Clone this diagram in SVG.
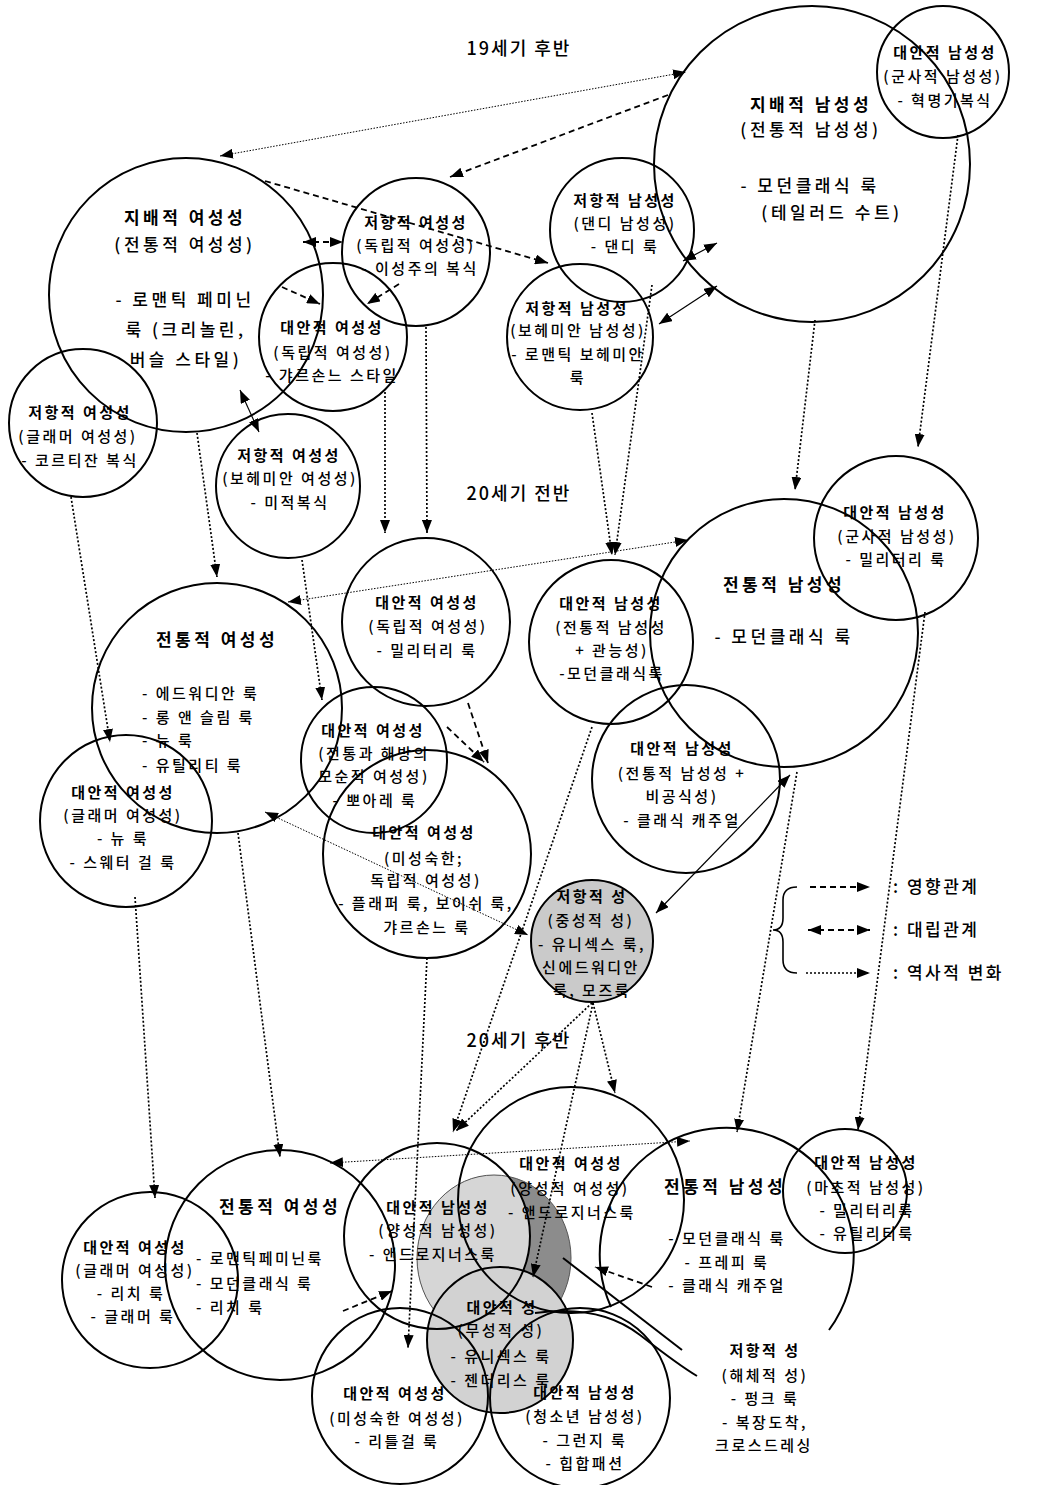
<svg xmlns="http://www.w3.org/2000/svg" width="1038" height="1485" viewBox="0 0 1038 1485">
<style>
.c{fill:none;stroke:#000;stroke-width:2}
.t{font-family:"Noto Sans CJK KR","Noto Sans",sans-serif;font-size:15px;font-weight:500;letter-spacing:2.5px;text-anchor:middle;fill:#000}
.s{text-anchor:start}
.b{font-weight:bold}
.big{font-size:17px;letter-spacing:3.5px}
.era{font-family:"Noto Sans CJK KR","Noto Sans",sans-serif;font-size:18px;font-weight:500;letter-spacing:2px;text-anchor:middle;fill:#000}
.lg{font-family:"Noto Sans CJK KR","Noto Sans",sans-serif;font-size:17px;font-weight:500;letter-spacing:2.5px;fill:#000}
#conn path,#conn line{fill:none;stroke:#000}
.dot{stroke-dasharray:2 2;stroke-width:1.7}
.dash{stroke-dasharray:6 4;stroke-width:1.8}
.fine{stroke-dasharray:1.5 1.5;stroke-width:1}
.thin{stroke-width:1.2}
.me{marker-end:url(#a)}
.ms{marker-start:url(#a)}
</style>
<defs>
<marker id="a" viewBox="0 0 13 10" refX="13" refY="5" markerWidth="13" markerHeight="10" markerUnits="userSpaceOnUse" orient="auto-start-reverse"><path d="M0,0 L13,5 L0,10 z" fill="#000"/></marker>
<clipPath id="clipV"><circle cx="437" cy="1236" r="93"/></clipPath>
</defs>
<rect width="1038" height="1485" fill="#fff"/>

<!-- gray fills -->
<g id="fills">
<ellipse cx="494" cy="1258" rx="77" ry="83" fill="#8c8c8c"/>
<ellipse cx="494" cy="1258" rx="77" ry="83" fill="#d6d6d6" clip-path="url(#clipV)"/>
<ellipse cx="494" cy="1258" rx="77" ry="83" fill="none" stroke="#555" stroke-width="1"/>
<circle cx="500" cy="1340" r="73" fill="#d2d2d2"/>
<circle cx="592" cy="941" r="61" fill="#cacaca"/>
</g>

<text class="era" x="519" y="55">19세기 후반</text>
<text class="era" x="519" y="500">20세기 전반</text>
<text class="era" x="519" y="1047">20세기 후반</text>

<!-- Top section -->
<g id="n-dom-fem">
<circle class="c" cx="186" cy="295" r="137"/>
<text class="t b big" x="185" y="224">지배적 여성성</text>
<text class="t big" x="185" y="251">(전통적 여성성)</text>
<text class="t big" x="185" y="306">- 로맨틱 페미닌</text>
<text class="t big" x="186" y="336">룩 (크리놀린,</text>
<text class="t big" x="186" y="366">버슬 스타일)</text>
</g>
<g id="n-res-fem-ind">
<circle class="c" cx="416" cy="252" r="74"/>
<text class="t b" x="416" y="228">저항적 여성성</text>
<text class="t" x="416" y="251">(독립적 여성성)</text>
<text class="t" x="420" y="274">- 이성주의 복식</text>
</g>
<g id="n-alt-fem-ind">
<circle class="c" cx="333" cy="337" r="74"/>
<text class="t b" x="332" y="333">대안적 여성성</text>
<text class="t" x="333" y="358">(독립적 여성성)</text>
<text class="t" x="332" y="381">- 갸르손느 스타일</text>
</g>
<g id="n-res-fem-glam">
<circle class="c" cx="83" cy="423" r="74"/>
<text class="t b" x="80" y="418">저항적 여성성</text>
<text class="t" x="78" y="442">(글래머 여성성)</text>
<text class="t" x="80" y="466">- 코르티잔 복식</text>
</g>
<g id="n-res-fem-boh">
<circle class="c" cx="288" cy="486" r="72"/>
<text class="t b" x="289" y="461">저항적 여성성</text>
<text class="t" x="290" y="484">(보헤미안 여성성)</text>
<text class="t" x="290" y="508">- 미적복식</text>
</g>
<g id="n-res-mas-dandy">
<circle class="c" cx="622" cy="230" r="72"/>
<text class="t b" x="625" y="206">저항적 남성성</text>
<text class="t" x="625" y="229">(댄디 남성성)</text>
<text class="t" x="625" y="252">- 댄디 룩</text>
</g>
<g id="n-res-mas-boh">
<circle class="c" cx="580" cy="337" r="73"/>
<text class="t b" x="577" y="314">저항적 남성성</text>
<text class="t" x="578" y="336">(보헤미안 남성성)</text>
<text class="t" x="578" y="360">- 로맨틱 보헤미안</text>
<text class="t" x="578" y="383">룩</text>
</g>
<g id="n-dom-mas">
<circle class="c" cx="812" cy="164" r="158"/>
<text class="t b big" x="811" y="111">지배적 남성성</text>
<text class="t big" x="811" y="136">(전통적 남성성)</text>
<text class="t big" x="810" y="192">- 모던클래식 룩</text>
<text class="t big" x="832" y="219">(테일러드 수트)</text>
</g>
<g id="n-alt-mas-mil1">
<circle class="c" cx="943" cy="72" r="66"/>
<text class="t b" x="945" y="58">대안적 남성성</text>
<text class="t" x="943" y="82">(군사적 남성성)</text>
<text class="t" x="945" y="106">- 혁명기복식</text>
</g>

<!-- Middle section -->
<g id="n-trad-fem-mid">
<circle class="c" cx="217" cy="708" r="125"/>
<text class="t b big" x="217" y="646">전통적 여성성</text>
<text class="t s" x="142" y="699">- 에드워디안 룩</text>
<text class="t s" x="142" y="723">- 롱 앤 슬림 룩</text>
<text class="t s" x="142" y="746">- 뉴 룩</text>
<text class="t s" x="142" y="771">- 유틸리티 룩</text>
</g>
<g id="n-alt-fem-mil">
<circle class="c" cx="426" cy="622" r="84"/>
<text class="t b" x="427" y="608">대안적 여성성</text>
<text class="t" x="428" y="632">(독립적 여성성)</text>
<text class="t" x="427" y="656">- 밀리터리 룩</text>
</g>
<g id="n-alt-fem-contra">
<circle class="c" cx="374" cy="760" r="73"/>
<text class="t b" x="373" y="736">대안적 여성성</text>
<text class="t" x="374" y="759">(전통과 해방의</text>
<text class="t" x="374" y="782">모순적 여성성)</text>
<text class="t" x="375" y="806">- 뽀아레 룩</text>
</g>
<g id="n-alt-fem-glam-mid">
<circle class="c" cx="126" cy="821" r="86"/>
<text class="t b" x="123" y="798">대안적 여성성</text>
<text class="t" x="123" y="821">(글래머 여성성)</text>
<text class="t" x="123" y="844">- 뉴 룩</text>
<text class="t" x="123" y="868">- 스웨터 걸 룩</text>
</g>
<g id="n-alt-fem-immat">
<circle class="c" cx="427" cy="854" r="104"/>
<text class="t b" x="424" y="838">대안적 여성성</text>
<text class="t" x="424" y="864">(미성숙한;</text>
<text class="t" x="426" y="886">독립적 여성성)</text>
<text class="t" x="426" y="909">- 플래퍼 룩, 보이쉬 룩,</text>
<text class="t" x="427" y="933">갸르손느 룩</text>
</g>
<g id="n-alt-mas-sens">
<circle class="c" cx="611" cy="642" r="82"/>
<text class="t b" x="611" y="609">대안적 남성성</text>
<text class="t" x="611" y="633">(전통적 남성성</text>
<text class="t" x="612" y="656">+ 관능성)</text>
<text class="t" x="612" y="679">-모던클래식룩</text>
</g>
<g id="n-trad-mas-mid">
<circle class="c" cx="784" cy="633" r="134"/>
<text class="t b big" x="784" y="591">전통적 남성성</text>
<text class="t big" x="784" y="643">- 모던클래식 룩</text>
</g>
<g id="n-alt-mas-mil2">
<circle class="c" cx="896" cy="538" r="82"/>
<text class="t b" x="895" y="518">대안적 남성성</text>
<text class="t" x="897" y="542">(군사적 남성성)</text>
<text class="t" x="896" y="565">- 밀리터리 룩</text>
</g>
<g id="n-alt-mas-inf">
<circle class="c" cx="686" cy="779" r="94"/>
<text class="t b" x="682" y="754">대안적 남성성</text>
<text class="t" x="682" y="779">(전통적 남성성 +</text>
<text class="t" x="682" y="802">비공식성)</text>
<text class="t" x="682" y="826">- 클래식 캐주얼</text>
</g>
<g id="n-res-sex-neutral">
<circle class="c" cx="592" cy="941" r="61"/>
<text class="t b" x="592" y="902">저항적 성</text>
<text class="t" x="591" y="926">(중성적 성)</text>
<text class="t" x="592" y="950">- 유니섹스 룩,</text>
<text class="t" x="591" y="973">신에드워디안</text>
<text class="t" x="592" y="996">룩, 모즈룩</text>
</g>

<!-- Bottom section -->
<g id="n-alt-fem-glam-bot">
<circle class="c" cx="150" cy="1280" r="88"/>
<text class="t b" x="135" y="1253">대안적 여성성</text>
<text class="t" x="135" y="1276">(글래머 여성성)</text>
<text class="t" x="131" y="1299">- 리치 룩</text>
<text class="t" x="133" y="1322">- 글래머 룩</text>
</g>
<g id="n-trad-fem-bot">
<circle class="c" cx="280" cy="1265" r="115"/>
<text class="t b big" x="280" y="1213">전통적 여성성</text>
<text class="t s" x="196" y="1264">- 로맨틱페미닌룩</text>
<text class="t s" x="196" y="1289">- 모던클래식 룩</text>
<text class="t s" x="196" y="1313">- 리치 룩</text>
</g>
<g id="n-alt-mas-andro">
<circle class="c" cx="437" cy="1236" r="93"/>
<text class="t b" x="438" y="1213">대안적 남성성</text>
<text class="t" x="438" y="1236">(양성적 남성성)</text>
<text class="t" x="433" y="1260">- 앤드로지너스룩</text>
</g>
<g id="n-alt-fem-andro">
<circle class="c" cx="571" cy="1200" r="113"/>
<text class="t b" x="571" y="1169">대안적 여성성</text>
<text class="t" x="570" y="1194">(양성적 여성성)</text>
<text class="t" x="572" y="1218">- 앤드로지너스룩</text>
</g>
<g id="n-alt-sex-asex">
<circle class="c" cx="500" cy="1340" r="73"/>
<text class="t b" x="502" y="1313">대안적 성</text>
<text class="t" x="501" y="1336">(무성적 성)</text>
<text class="t" x="501" y="1362">- 유니섹스 룩</text>
<text class="t" x="501" y="1386">- 젠더리스 룩</text>
</g>
<g id="n-alt-fem-immat-bot">
<circle class="c" cx="400" cy="1396" r="88"/>
<text class="t b" x="395" y="1399">대안적 여성성</text>
<text class="t" x="397" y="1424">(미성숙한 여성성)</text>
<text class="t" x="397" y="1447">- 리틀걸 룩</text>
</g>
<g id="n-alt-mas-youth">
<circle class="c" cx="580" cy="1398" r="90"/>
<text class="t b" x="585" y="1398">대안적 남성성</text>
<text class="t" x="585" y="1422">(청소년 남성성)</text>
<text class="t" x="585" y="1446">- 그런지 룩</text>
<text class="t" x="585" y="1469">- 힙합패션</text>
</g>
<g id="n-trad-mas-bot">
<path class="c" d="M829 1330 A127 127 0 1 0 611 1307"/>
<text class="t b big" x="725" y="1193">전통적 남성성</text>
<text class="t" x="727" y="1244">- 모던클래식 룩</text>
<text class="t" x="727" y="1268">- 프레피 룩</text>
<text class="t" x="727" y="1291">- 클래식 캐주얼</text>
</g>
<g id="n-alt-mas-macho">
<circle class="c" cx="845" cy="1191" r="62"/>
<text class="t b" x="866" y="1168">대안적 남성성</text>
<text class="t" x="866" y="1193">(마초적 남성성)</text>
<text class="t" x="867" y="1216">- 밀리터리룩</text>
<text class="t" x="867" y="1239">- 유틸리티룩</text>
</g>
<g id="n-res-sex-decon">
<path class="c" d="M535 1313 Q600 1304 640 1335 T697 1376"/>
<line x1="563" y1="1258" x2="682" y2="1350" stroke="#000" stroke-width="2"/>
<text class="t b" x="765" y="1356">저항적 성</text>
<text class="t" x="765" y="1381">(해체적 성)</text>
<text class="t" x="765" y="1404">- 펑크 룩</text>
<text class="t" x="765" y="1428">- 복장도착,</text>
<text class="t" x="764" y="1451">크로스드레싱</text>
</g>

<!-- Connectors -->
<g id="conn">
<path class="fine me ms" d="M220 156 L686 72"/>
<path class="dash me" d="M668 95 L450 177"/>
<path class="dash me" d="M265 181 L548 263"/>
<path class="dash me ms" d="M303 242 L343 242"/>
<path class="dash me" d="M282 287 L320 304"/>
<path class="dash me" d="M399 284 L367 304"/>
<path class="thin me ms" d="M240 390 L259 432"/>
<path class="thin me ms" d="M683 261 L717 243"/>
<path class="thin me ms" d="M659 324 L717 286"/>

<path class="dot me" d="M197 433 L217 577"/>
<path class="dot me" d="M71 497 L110 742"/>
<path class="dot me" d="M302 560 L322 700"/>
<path class="dot me" d="M385 392 L385 533"/>
<path class="dot me" d="M426 327 L427 533"/>
<path class="dot me" d="M592 413 L612 555"/>
<path class="dot me" d="M652 285 L615 555"/>
<path class="dot me" d="M815 320 L795 490"/>
<path class="dot me" d="M958 135 L918 447"/>

<path class="fine me ms" d="M288 602 L688 540"/>
<path class="dash me" d="M468 703 L488 763"/>
<path class="dash me" d="M447 727 L484 762"/>
<path class="fine me ms" d="M265 812 L528 935"/>
<path class="thin me ms" d="M790 775 L656 913"/>
<path class="dot me" d="M797 772 L737 1132"/>
<path class="dot me" d="M925 612 L858 1130"/>
<path class="dot me" d="M592 727 L453 1132"/>
<path class="dot me" d="M592 1003 L456 1131"/>
<path class="dot me" d="M593 1003 L615 1093"/>
<path class="dot me" d="M593 1003 L533 1277"/>
<path class="dot me" d="M427 958 L408 1348"/>
<path class="dot me" d="M238 833 L280 1157"/>
<path class="dot me" d="M135 897 L155 1198"/>
<path class="fine me ms" d="M330 1163 L690 1141"/>
<path class="dash me" d="M343 1311 L392 1291"/>
<path class="dash me" d="M652 1287 L595 1267"/>
</g>

<!-- Legend -->
<g id="legend">
<path d="M797 887 Q783 887 783 900 L783 918 Q783 930 773 930 Q783 930 783 942 L783 960 Q783 973 797 973" fill="none" stroke="#000" stroke-width="1.6"/>
<path d="M810 887 L870 887" fill="none" stroke="#000" stroke-width="1.8" stroke-dasharray="6 4" marker-end="url(#a)"/>
<path d="M808 930 L870 930" fill="none" stroke="#000" stroke-width="1.8" stroke-dasharray="6 4" marker-end="url(#a)" marker-start="url(#a)"/>
<path d="M806 973 L870 973" fill="none" stroke="#000" stroke-width="1.7" stroke-dasharray="2 2" marker-end="url(#a)"/>
<text class="lg" x="893" y="893">: 영향관계</text>
<text class="lg" x="893" y="936">: 대립관계</text>
<text class="lg" x="893" y="979">: 역사적 변화</text>
</g>
</svg>
